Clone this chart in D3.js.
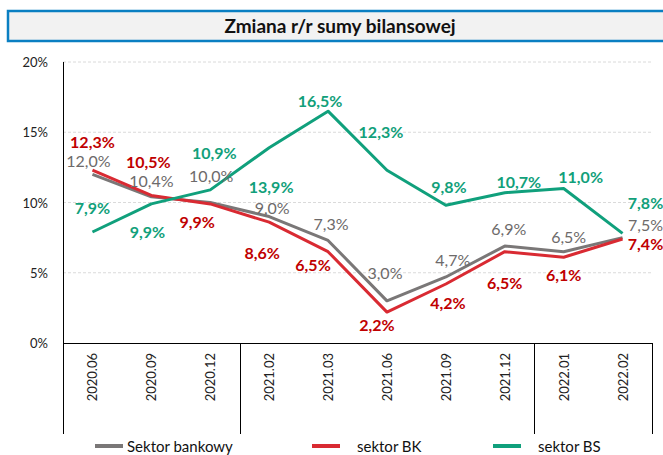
<!DOCTYPE html>
<html>
<head>
<meta charset="utf-8">
<script src="https://cdn.jsdelivr.net/npm/d3@7"></script>
<style>
  body { margin: 0; background: #fff; }
  svg text { font-family: Lato, "Open Sans", sans-serif; }
</style>
</head>
<body>
<div id="chart"></div>
<script>
const WIDTH = 663;
const HEIGHT = 455;

// data
const categories = ['2020.06', '2020.09', '2020.12', '2021.02', '2021.03', '2021.06', '2021.09', '2021.12', '2022.01', '2022.02'];
const sektorBankowy = [12.0, 10.4, 10.0, 9.0, 7.3, 3.0, 4.7, 6.9, 6.5, 7.5];
const sektorBK = [12.3, 10.5, 9.9, 8.6, 6.5, 2.2, 4.2, 6.5, 6.1, 7.4];
const sektorBS = [7.9, 9.9, 10.9, 13.9, 16.5, 12.3, 9.8, 10.7, 11.0, 7.8];
const yTicks = [0, 5, 10, 15, 20];
const groupBreaks = ['2020.12', '2021.12']; // divider after these categories

// label offsets (px) from each point, [dx, dy] of label centre
const offBankowy = [[-4, -13], [0, -16], [1, -27], [3, -9], [3, -16], [-2, -28], [7, -17], [4, -17], [5, -15], [23, -13]];
const offBK = [[0, -28], [-3, -33], [-13, 18], [-7, 31], [-15, 13], [-10, 13], [2, 19], [0, 31], [0, 18], [23, 5]];
const offBS = [[0, -24], [-4, 28], [4, -37], [2, 39], [-8, -10], [-6, -38], [3, -18], [14, -11], [17, -11], [23, -30]];

const series = [
    { name: 'Sektor bankowy', values: sektorBankowy, off: offBankowy, line: '#7a7777', text: '#6d6a6a', weight: 'normal' },
    { name: 'sektor BK', values: sektorBK, off: offBK, line: '#d92a32', text: '#c00000', weight: 'bold' },
    { name: 'sektor BS', values: sektorBS, off: offBS, line: '#10a07c', text: '#11a07a', weight: 'bold' }
];

const svg = d3.select('#chart').append('svg')
    .attr('width', WIDTH)
    .attr('height', HEIGHT);

// title box
svg.append('rect')
    .attr('x', 8).attr('y', 11)
    .attr('width', 670).attr('height', 30)
    .attr('fill', '#f2f2f2')
    .attr('stroke', '#0a7fc2')
    .attr('stroke-width', 2.5);
svg.append('text')
    .attr('x', 340).attr('y', 33)
    .attr('text-anchor', 'middle')
    .attr('font-size', 19)
    .attr('font-weight', 'bold')
    .attr('fill', '#111')
    .text('Zmiana r/r sumy bilansowej');

const x = d3.scaleBand().domain(categories).range([63, 652]).padding(0);
const y = d3.scaleLinear().domain([0, 20]).range([343, 62]);
const cx = c => x(c) + x.bandwidth() / 2;
const axisBottom = 434;

// grid
svg.append('g').selectAll('line')
    .data(yTicks.filter(t => t > 0))
    .enter().append('line')
    .attr('x1', 63).attr('x2', 652)
    .attr('y1', d => y(d)).attr('y2', d => y(d))
    .attr('stroke', '#dadada')
    .attr('stroke-dasharray', '3,2');

// y tick labels
svg.append('g').selectAll('text')
    .data(yTicks)
    .enter().append('text')
    .attr('x', 48)
    .attr('y', d => y(d) + 5)
    .attr('text-anchor', 'end')
    .attr('font-size', 13)
    .attr('fill', '#222')
    .text(d => d + '%');

// axes
svg.append('line')
    .attr('x1', 63.5).attr('x2', 63.5)
    .attr('y1', 62).attr('y2', axisBottom)
    .attr('stroke', '#000');
svg.append('line')
    .attr('x1', 63).attr('x2', 652)
    .attr('y1', 343.5).attr('y2', 343.5)
    .attr('stroke', '#000');
const dividers = groupBreaks.map(c => x(c) + x.bandwidth()).concat([652]);
svg.append('g').selectAll('line')
    .data(dividers)
    .enter().append('line')
    .attr('x1', d => Math.round(d) + 0.5).attr('x2', d => Math.round(d) + 0.5)
    .attr('y1', 343).attr('y2', axisBottom)
    .attr('stroke', '#000');

// x labels, rotated
svg.append('g').selectAll('text')
    .data(categories)
    .enter().append('text')
    .attr('transform', d => `translate(${cx(d) + 5},353) rotate(-90)`)
    .attr('text-anchor', 'end')
    .attr('font-size', 13)
    .attr('fill', '#222')
    .text(d => d);

// lines
const line = d3.line()
    .x((d, i) => cx(categories[i]))
    .y(d => y(d));

svg.append('g').selectAll('path')
    .data(series)
    .enter().append('path')
    .attr('d', d => line(d.values))
    .attr('fill', 'none')
    .attr('stroke', d => d.line)
    .attr('stroke-width', 3)
    .attr('stroke-linejoin', 'round');

// data labels
series.forEach(s => {
    svg.append('g').selectAll('text')
        .data(s.values)
        .enter().append('text')
        .attr('x', (d, i) => cx(categories[i]) + s.off[i][0])
        .attr('y', (d, i) => y(d) + s.off[i][1] + 6)
        .attr('text-anchor', 'middle')
        .attr('font-size', 16)
        .attr('font-weight', s.weight)
        .attr('fill', s.text)
        .text(d => d.toFixed(1).replace('.', ',') + '%');
});

// legend
const legendX = [95, 312, 493];
const legend = svg.append('g').selectAll('g')
    .data(series)
    .enter().append('g')
    .attr('transform', (d, i) => `translate(${legendX[i]},446)`);
legend.append('line')
    .attr('x1', 0).attr('x2', 28)
    .attr('stroke', d => d.line)
    .attr('stroke-width', 4);
legend.append('text')
    .attr('x', (d, i) => i === 0 ? 32 : 45)
    .attr('y', 6)
    .attr('font-size', 15)
    .attr('fill', '#111')
    .text(d => d.name);
</script>
</body>
</html>
